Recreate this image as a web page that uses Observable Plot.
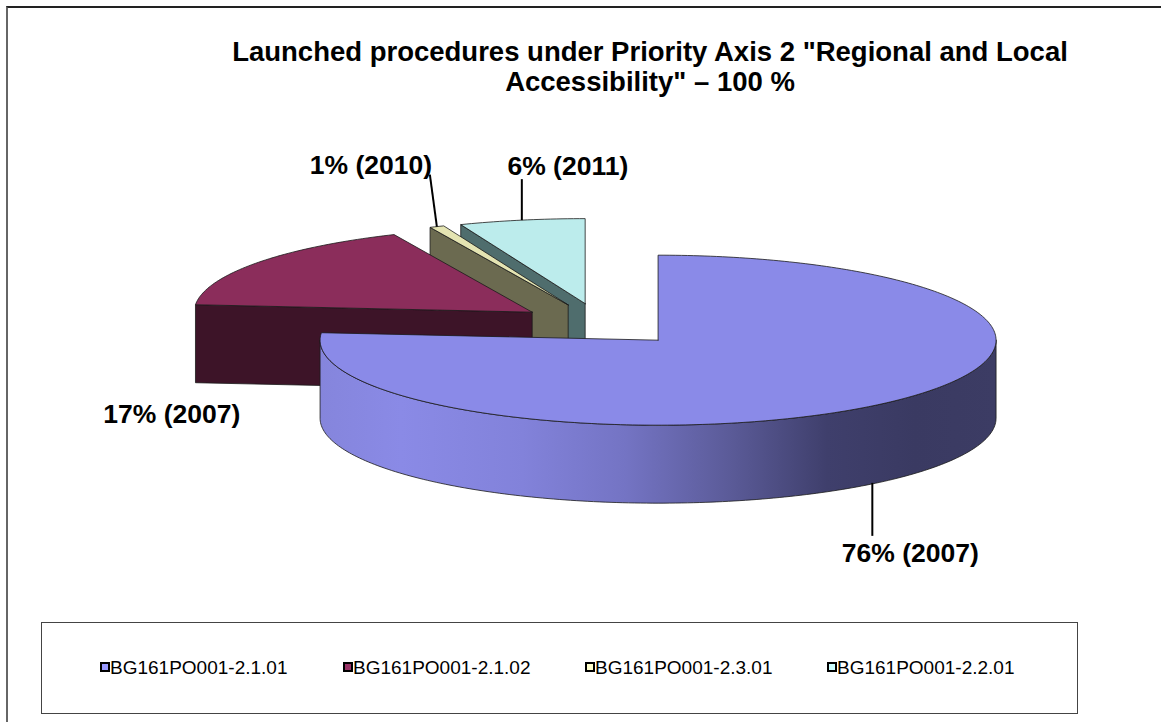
<!DOCTYPE html>
<html>
<head>
<meta charset="utf-8">
<script src="https://cdn.jsdelivr.net/npm/d3@7"></script>
<script src="https://cdn.jsdelivr.net/npm/@observablehq/plot@0.6"></script>
<style>
  body { margin: 0; background: #fff; }
  #wrap { position: relative; width: 1161px; height: 722px; overflow: hidden; font-family: Arial, "Liberation Sans", sans-serif; background:#fff; }
  #frame { position: absolute; left: 6px; top: 6px; width: 1200px; height: 800px; border-left: 2px solid #666; border-top: 2px solid #222; }
  #title { position: absolute; left: 0; top: 37px; width: 1300px; text-align: center; font-weight: bold; font-size: 27.5px; line-height: 30px; color: #000; }
  #chart { position: absolute; left: 0; top: 0; }
  #legend { position: absolute; left: 41px; top: 622px; width: 1035px; height: 90px; border: 1.5px solid #444; }
  .item { position: absolute; top: 0; height: 20px; font-size: 19px; line-height: 20px; color: #000; white-space: nowrap; }
  .sw { position: absolute; box-sizing: border-box; width: 10px; height: 10px; border: 2px solid #000; }
</style>
</head>
<body>
<div id="wrap">
  <div id="frame"></div>
  <div id="chart"></div>
  <div id="title">Launched procedures under Priority Axis 2 "Regional and Local<br>Accessibility" – 100 %</div>
  <div id="legend"></div>
</div>
<script>
// ---- data ----
const codes = ["BG161PO001-2.1.01", "BG161PO001-2.1.02", "BG161PO001-2.3.01", "BG161PO001-2.2.01"];
const shares = [76.4, 16.9, 0.7, 6.0];
const years = [2007, 2007, 2010, 2011];

// ---- styles ----
const topColors = ["#8a8ae8", "#8b2d5b", "#e4e4b2", "#bcecec"];
const sideColors = ["url(#blueSide)", "#3d1428", "#6b6a50", "#4f6d6d"];
const legendColors = ["#9999ff", "#993366", "#ffffcc", "#ccffff"];

// ---- layout ----
const W = 1161, H = 615;
const CX = 600.5, CY = 324, RX = 338, RY = 85, DEPTH = 78, EXPLODE = 0.25;
const D = DEPTH / RY;
// label layout in pixels relative to the anchor point of each slice
const labelLayout = [
  {line: [-14, 55], text: [24, 73]},
  {line: null, text: [-85, 152]},
  {line: [-7, -52], text: [-66, -61]},
  {line: [0, -41], text: [46, -54]}
];

const arcs = d3.pie().sort(null).value(d => d)(shares);
const slices = arcs.map((a, i) => {
  const mid = (a.startAngle + a.endAngle) / 2;
  return {i, a0: a.startAngle, a1: a.endAngle, mid,
          ox: EXPLODE * Math.sin(mid), oy: EXPLODE * Math.cos(mid)};
});
const outer = (s, t, down = 0) => ({x: s.ox + Math.sin(t), y: s.oy + Math.cos(t) - down});
const apex = (s, down = 0) => ({x: s.ox, y: s.oy - down});
const sample = (t0, t1) => {
  const n = Math.max(2, Math.ceil((t1 - t0) / (2 * Math.PI) * 360));
  return d3.range(n + 1).map(k => t0 + (t1 - t0) * k / n);
};

const polys = [];
const order = slices.slice().sort((a, b) => Math.cos(b.mid) - Math.cos(a.mid));
for (const s of order) {
  if (Math.sin(s.a0) < -1e-6) {
    polys.push({fill: sideColors[s.i], pts: [apex(s), outer(s, s.a0), outer(s, s.a0, D), apex(s, D)]});
  }
  if (Math.sin(s.a1) > 1e-6) {
    polys.push({fill: sideColors[s.i], pts: [apex(s), outer(s, s.a1), outer(s, s.a1, D), apex(s, D)]});
  }
  const lo = Math.max(s.a0, Math.PI / 2), hi = Math.min(s.a1, 3 * Math.PI / 2);
  if (hi > lo) {
    const ts = sample(lo, hi);
    polys.push({fill: sideColors[s.i],
      pts: ts.map(t => outer(s, t)).concat(ts.slice().reverse().map(t => outer(s, t, D)))});
  }
  polys.push({fill: topColors[s.i], pts: [apex(s)].concat(sample(s.a0, s.a1).map(t => outer(s, t)))});
}

const marks = polys.map(p => {
  const pts = p.pts.concat([p.pts[0]]);
  return Plot.line(pts, {x: "x", y: "y", fill: p.fill, stroke: "#1a1a1a", strokeWidth: 0.8, strokeLinejoin: "round"});
});

// labels
const px2x = v => v / RX, px2y = v => -v / RY;
const labelRows = slices.map(s => {
  const anc = s.i === 0 ? outer(s, s.mid, D) : outer(s, s.mid);
  const L = labelLayout[s.i];
  // the big slice's leader starts a little left of the mid-angle point, on the lower rim
  const start = s.i === 0 ? {x: anc.x + px2x(L.line[0]), y: anc.y + px2y(2)} : anc;
  return {
    text: `${Math.round(shares[s.i])}% (${years[s.i]})`,
    ax: start.x, ay: start.y,
    lx: L.line ? anc.x + px2x(L.line[0]) : null,
    ly: L.line ? anc.y + px2y(L.line[1]) : null,
    tx: anc.x + px2x(L.text[0]), ty: anc.y + px2y(L.text[1]),
    hasLine: !!L.line
  };
});
marks.push(Plot.link(labelRows.filter(d => d.hasLine), {x1: "ax", y1: "ay", x2: "lx", y2: "ly", stroke: "#000", strokeWidth: 2}));
marks.push(Plot.text(labelRows, {x: "tx", y: "ty", text: "text", fontSize: 26.5, fontWeight: "bold",
  fontFamily: "Arial, 'Liberation Sans', sans-serif", fill: "#000", textAnchor: "middle", lineAnchor: "middle"}));

const plot = Plot.plot({
  width: W, height: H,
  x: {domain: [-1, 1], range: [CX - RX, CX + RX]},
  y: {domain: [-1, 1], range: [CY + RY, CY - RY]},
  axis: null,
  style: {background: "transparent", overflow: "visible"},
  marks
});
// gradient for the curved side of the big slice
const ns = "http://www.w3.org/2000/svg";
const defs = document.createElementNS(ns, "defs");
const g = document.createElementNS(ns, "linearGradient");
g.setAttribute("id", "blueSide");
g.setAttribute("x1", "0"); g.setAttribute("x2", "1"); g.setAttribute("y1", "0"); g.setAttribute("y2", "0");
[[0, "#8585dc"], [0.12, "#8a8ae6"], [0.3, "#8282da"], [0.45, "#7474c4"], [0.6, "#5c5c9a"], [0.75, "#3f3f6c"], [0.88, "#3a3a62"], [1, "#3c3c64"]]
  .forEach(([o, c]) => { const st = document.createElementNS(ns, "stop"); st.setAttribute("offset", o); st.setAttribute("stop-color", c); g.appendChild(st); });
defs.appendChild(g);
plot.insertBefore(defs, plot.firstChild);
document.getElementById("chart").appendChild(plot);

// legend
const legend = document.getElementById("legend");
const legendX = [100, 343, 585, 827];
codes.forEach((c, i) => {
  const sw = document.createElement("div");
  sw.className = "sw";
  sw.style.left = (legendX[i] - 42.5) + "px";
  sw.style.top = (662.5 - 623.5) + "px";
  sw.style.background = legendColors[i];
  legend.appendChild(sw);
  const it = document.createElement("div");
  it.className = "item";
  it.style.left = (legendX[i] - 42.5 + 10.5) + "px";
  it.style.top = (658.5 - 623.5) + "px";
  it.textContent = c;
  legend.appendChild(it);
});
</script>
</body>
</html>
